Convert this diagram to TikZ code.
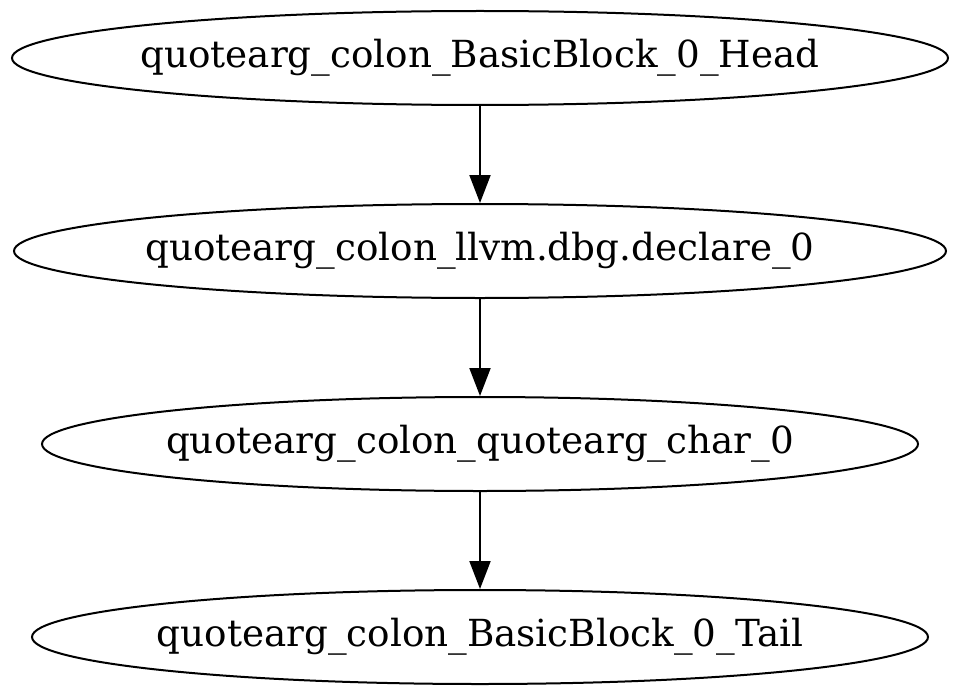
\documentclass[tikz,border=0pt]{standalone}
\usepackage{fontspec}
\setmainfont{DejaVu Serif}
\usetikzlibrary{shapes.geometric,arrows.meta}
\begin{document}
\begin{tikzpicture}[x=1pt,y=-1pt,
  blk/.style={draw,line width=2pt,ellipse,inner sep=0pt,minimum height=94pt,font=\fontsize{37.3}{40}\selectfont},
  conn/.style={line width=2pt,-{Triangle[length=28pt,width=21pt]}}]
\useasboundingbox (0,0) rectangle (960,698);
\node[blk,minimum width=936pt] (a) at (480,58) {\makebox[0pt]{quotearg\_colon\_BasicBlock\_0\_Head}};
\node[blk,minimum width=932pt] (b) at (480,251) {\makebox[0pt]{quotearg\_colon\_llvm.dbg.declare\_0}};
\node[blk,minimum width=876pt] (c) at (480,444) {\makebox[0pt]{quotearg\_colon\_quotearg\_char\_0}};
\node[blk,minimum width=896pt] (d) at (480,637) {\makebox[0pt]{quotearg\_colon\_BasicBlock\_0\_Tail}};
\draw[conn] (a) -- (b);
\draw[conn] (b) -- (c);
\draw[conn] (c) -- (d);
\end{tikzpicture}
\end{document}
